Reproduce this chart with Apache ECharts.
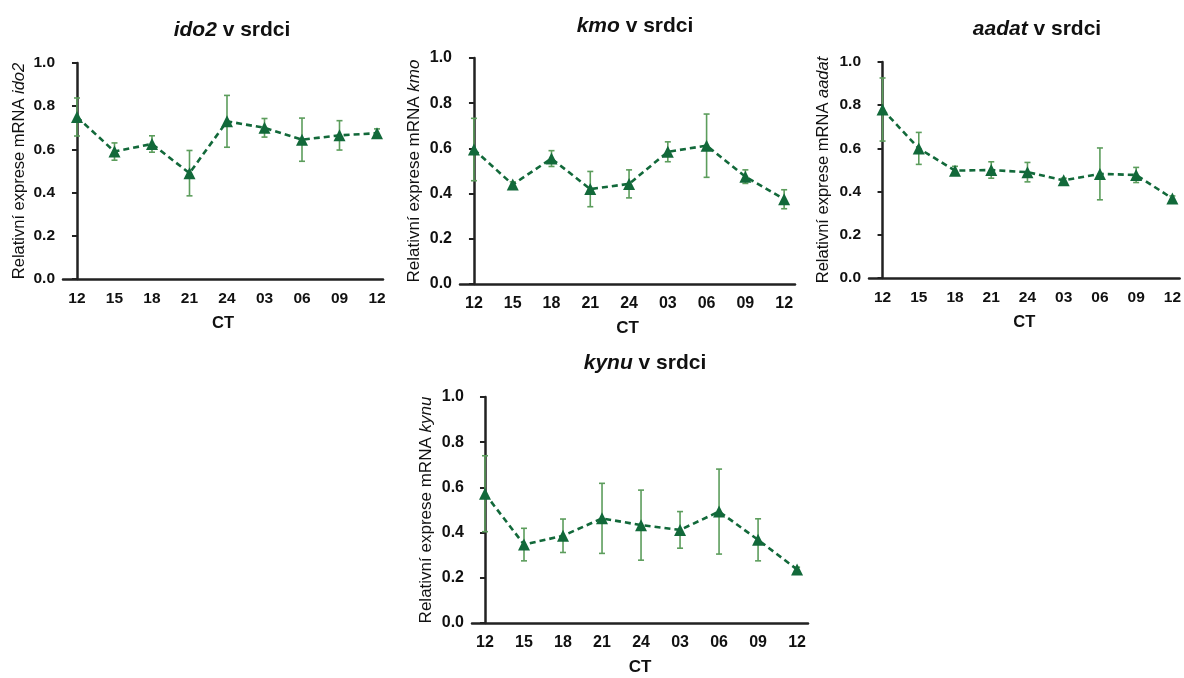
<!DOCTYPE html>
<html>
<head>
<meta charset="utf-8">
<script src="https://cdn.jsdelivr.net/npm/echarts@6/dist/echarts.min.js"></script>
<style>
  html, body { margin: 0; padding: 0; background: #fff; }
  #chart { width: 1184px; height: 678px; }
</style>
</head>
<body>
<div id="chart"></div>
<script>
// Circadian time points (CT) on the x axis
const ctLabels = ['12', '15', '18', '21', '24', '03', '06', '09', '12'];
const yTicks = [0, 0.2, 0.4, 0.6, 0.8, 1.0];

// Mean relative mRNA expression in heart and SEM for each gene
const ido2Mean = [0.75, 0.59, 0.625, 0.49, 0.73, 0.70, 0.645, 0.665, 0.675];
const ido2Sem  = [0.088, 0.04, 0.038, 0.105, 0.12, 0.043, 0.10, 0.068, 0.02];

const kmoMean = [0.595, 0.44, 0.555, 0.42, 0.443, 0.585, 0.612, 0.475, 0.375];
const kmoSem  = [0.138, 0.012, 0.035, 0.078, 0.062, 0.044, 0.14, 0.03, 0.042];

const aadatMean = [0.78, 0.60, 0.497, 0.50, 0.49, 0.452, 0.482, 0.477, 0.368];
const aadatSem  = [0.146, 0.074, 0.02, 0.038, 0.045, 0.01, 0.12, 0.035, 0.012];

const kynuMean = [0.572, 0.347, 0.386, 0.463, 0.433, 0.412, 0.493, 0.368, 0.237];
const kynuSem  = [0.168, 0.072, 0.074, 0.155, 0.155, 0.081, 0.188, 0.093, 0.01];

const panels = [
  { gene: 'ido2',  mean: ido2Mean,  sem: ido2Sem,  left: 63,  top: 63,  width: 320, height: 216, xMin: -0.373, xMax: 8.16, title: [227, 15], fs: 15.5, nameFs: 16.5, nameGap: 35 },
  { gene: 'kmo',   mean: kmoMean,   sem: kmoSem,   left: 460, top: 58,  width: 335, height: 226, xMin: -0.36,  xMax: 8.28, title: [630, 11], fs: 16,   nameFs: 17,   nameGap: 37 },
  { gene: 'aadat', mean: aadatMean, sem: aadatSem, left: 869, top: 62,  width: 321, height: 216, xMin: -0.374, xMax: 8.2,  title: [1032, 14], fs: 15.5, nameFs: 16.5, nameGap: 37 },
  { gene: 'kynu',  mean: kynuMean,  sem: kynuSem,  left: 472, top: 397, width: 336, height: 226, xMin: -0.333, xMax: 8.28, title: [640, 348], fs: 16,   nameFs: 17,   nameGap: 37 }
];

const FONT = 'Arial, "Liberation Sans", Helvetica, sans-serif';
const AXIS = '#222';
const LINE = '#12693a';
const ERR = '#5c9d5c';

const titles = [], grids = [], xAxes = [], yAxes = [], series = [];

panels.forEach((p, k) => {
  titles.push({
    text: '{i|' + p.gene + '}{b| v srdci}',
    left: p.title[0], top: p.title[1], textAlign: 'center',
    textStyle: {
      rich: {
        i: { fontFamily: FONT, fontSize: 21, fontWeight: 'bold', fontStyle: 'italic', color: '#111' },
        b: { fontFamily: FONT, fontSize: 21, fontWeight: 'bold', color: '#111' }
      }
    }
  });
  grids.push({ left: p.left, top: p.top, width: p.width, height: p.height, containLabel: false });
  xAxes.push({
    type: 'value', gridIndex: k, min: p.xMin, max: p.xMax,
    name: 'CT', nameLocation: 'middle', nameGap: 36,
    nameTextStyle: { fontFamily: FONT, fontSize: p.fs + 1, fontWeight: 'bold', color: '#111' },
    axisLine: { show: true, onZero: false, lineStyle: { color: AXIS, width: 2.5 } },
    axisTick: { show: false },
    splitLine: { show: false },
    axisLabel: {
      customValues: ctLabels.map((_, i) => i),
      formatter: v => ctLabels[Math.round(v)],
      margin: 12, fontFamily: FONT, fontSize: p.fs, fontWeight: 'bold', color: '#111'
    }
  });
  yAxes.push({
    type: 'value', gridIndex: k, min: 0, max: 1, interval: 0.2,
    name: '{n|Relativní exprese mRNA }{g|' + p.gene + '}',
    nameLocation: 'middle', nameGap: p.nameGap,
    nameTextStyle: {
      rich: {
        n: { fontFamily: FONT, fontSize: p.nameFs, color: '#111' },
        g: { fontFamily: FONT, fontSize: p.nameFs, fontStyle: 'italic', color: '#111' }
      }
    },
    axisLine: { show: true, lineStyle: { color: AXIS, width: 2.5 } },
    axisTick: { show: true, length: 5, lineStyle: { color: AXIS, width: 2 } },
    splitLine: { show: false },
    axisLabel: {
      customValues: yTicks,
      formatter: v => v.toFixed(1),
      margin: 8, fontFamily: FONT, fontSize: p.fs, fontWeight: 'bold', color: '#111'
    }
  });
  // error bars (mean ± SEM) with small caps
  series.push({
    type: 'custom', xAxisIndex: k, yAxisIndex: k, z: 2, silent: true,
    data: p.mean.map((m, i) => [i, m - p.sem[i], m + p.sem[i]]),
    renderItem: (params, api) => {
      const x = api.value(0);
      const lo = api.coord([x, api.value(1)]);
      const hi = api.coord([x, api.value(2)]);
      const c = 3;
      const style = { stroke: ERR, lineWidth: 1.6 };
      return {
        type: 'group',
        children: [
          { type: 'line', shape: { x1: lo[0], y1: lo[1], x2: hi[0], y2: hi[1] }, style },
          { type: 'line', shape: { x1: hi[0] - c, y1: hi[1], x2: hi[0] + c, y2: hi[1] }, style },
          { type: 'line', shape: { x1: lo[0] - c, y1: lo[1], x2: lo[0] + c, y2: lo[1] }, style }
        ]
      };
    }
  });
  // mean profile
  series.push({
    type: 'line', xAxisIndex: k, yAxisIndex: k, z: 3,
    data: p.mean.map((m, i) => [i, m]),
    symbol: 'triangle', symbolSize: 12, showSymbol: true,
    itemStyle: { color: LINE },
    lineStyle: { color: LINE, width: 2.6, type: [6, 4] },
    animation: false
  });
});

const chart = echarts.init(document.getElementById('chart'), null, { renderer: 'canvas' });
chart.setOption({
  animation: false,
  backgroundColor: '#fff',
  title: titles,
  grid: grids,
  xAxis: xAxes,
  yAxis: yAxes,
  series: series
});
</script>
</body>
</html>
